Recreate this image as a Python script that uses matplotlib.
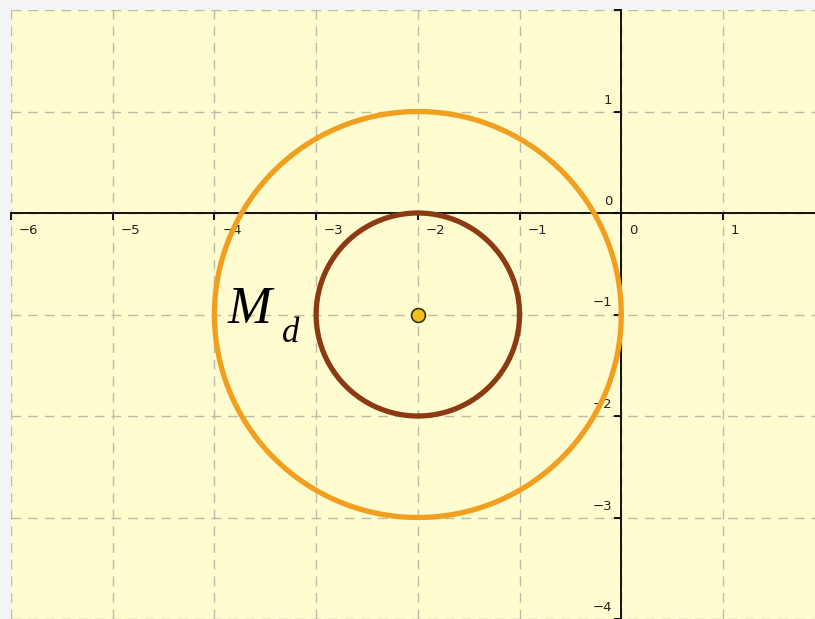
import matplotlib.pyplot as plt
import numpy as np

# circles around one centre
center = (-2, -1)
radii = [2, 1]
circle_colors = ['#f29e1f', '#8b3a12']
x_ticks = [-6, -5, -4, -3, -2, -1, 0, 1]
y_ticks = [-4, -3, -2, -1, 0, 1, 2]

fig = plt.figure(figsize=(8.15, 6.19), dpi=100, facecolor='#f3f4f5')
ax = fig.add_axes([11 / 815, 0, 804 / 815, 609 / 619])
ax.set_facecolor('#fffdd0')
ax.set_xlim(-6, 1.905)
ax.set_ylim(-4, 2)

# grid
for xv in x_ticks:
    ax.axvline(xv, color='#bdbaa6', lw=1, dashes=(7, 5), zorder=0)
for yv in y_ticks:
    ax.axhline(yv, color='#bdbaa6', lw=1, dashes=(7, 5), zorder=0)

# axes through origin
for s in ['top', 'right']:
    ax.spines[s].set_visible(False)
ax.spines['left'].set_position(('data', 0))
ax.spines['bottom'].set_position(('data', 0))
ax.spines['left'].set_linewidth(1.3)
ax.spines['bottom'].set_linewidth(1.3)
ax.set_xticks(x_ticks)
ax.set_yticks(y_ticks)
ax.tick_params(direction='out', length=5, width=1.3, labelbottom=False, labelleft=False)

for xv in x_ticks:
    ax.annotate(f'{xv}'.replace('-', '\u2212'), (xv, 0), xytext=(8, -11),
                textcoords='offset pixels', ha='left', va='top', fontsize=9.5,
                color='#222222', zorder=2)
for yv in y_ticks:
    if yv == 2:
        continue
    ax.annotate(f'{yv}'.replace('-', '\u2212'), (0, yv), xytext=(-9, 5),
                textcoords='offset pixels', ha='right', va='bottom', fontsize=9.5,
                color='#222222', zorder=2)

# circles
t = np.linspace(0, 2 * np.pi, 400)
for r, c in zip(radii, circle_colors):
    ax.plot(center[0] + r * np.cos(t), center[1] + r * np.sin(t), color=c, lw=3.8, zorder=3)

ax.plot(*center, 'o', ms=10, mfc='#f2c21c', mec='#3a3000', mew=1.2, zorder=4)

ax.text(-3.65, -0.96, 'M', fontsize=38, family='Liberation Serif', style='italic',
        ha='center', va='center', zorder=5)
ax.text(-3.25, -1.19, 'd', fontsize=25, family='Liberation Serif', style='italic',
        ha='center', va='center', zorder=5)

fig.savefig('out.png', dpi=100, facecolor=fig.get_facecolor())
